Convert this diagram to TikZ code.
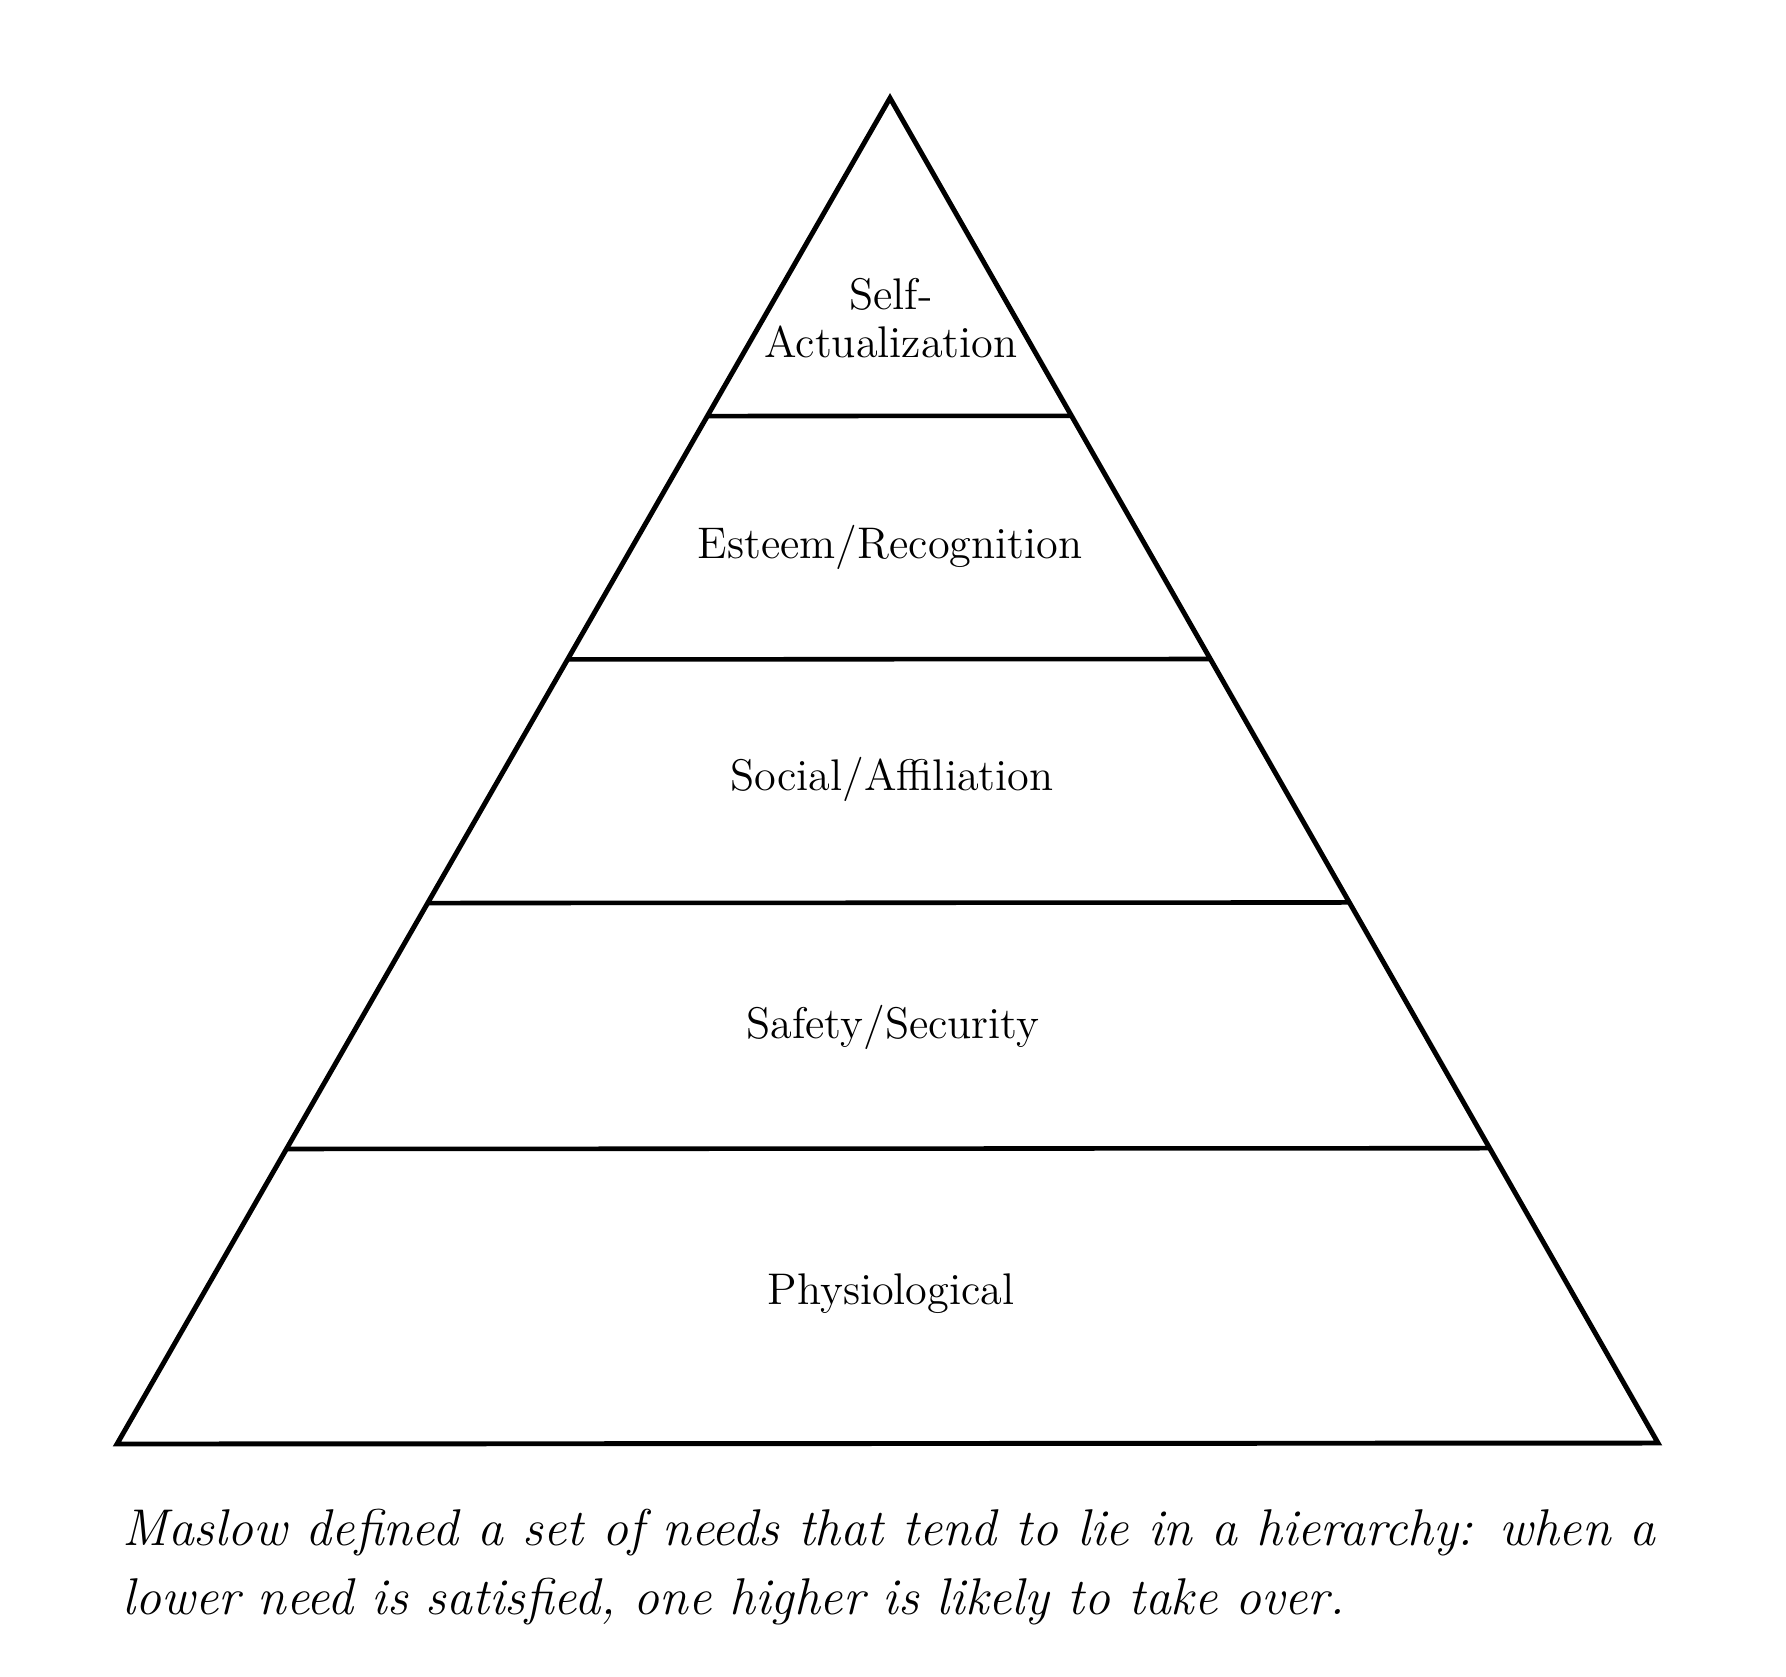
\documentclass[tikz,border=0pt]{standalone}
\usetikzlibrary{calc}
\begin{document}
\begin{tikzpicture}[x=0.01cm,y=-0.01cm,
  edge/.style={line width=1.4pt,line join=miter,line cap=round},
  level/.style={line width=1.3pt},
  lbl/.style={font=\fontsize{12.6}{14.5}\selectfont,inner sep=0pt,align=center},
  captext/.style={font=\fontsize{14.7}{17}\selectfont\itshape,inner sep=0pt,anchor=base west}]
\useasboundingbox (0,0) rectangle (1786,1676);
\coordinate (apex) at (890,98);
\coordinate (bl) at (117,1444);
\coordinate (br) at (1658,1443);
\draw[edge] (apex) -- (bl) -- (br) -- cycle;
\foreach \n/\t in {a/0.2363,b/0.4171,c/0.5981,d/0.7808}{
  \coordinate (L\n) at ($(apex)!\t!(bl)$);
  \coordinate (R\n) at ($(apex)!\t!(br)$);
  \draw[level] (L\n) -- (R\n);
}
\node[lbl] (self) at (891,318) {Self-\\[-1pt]Actualization};
\node[lbl] (esteem) at (890,547) {Esteem/Recognition};
\node[lbl] (social) at (892,779) {Social/Affiliation};
\node[lbl] (safety) at (893,1027) {Safety/Security};
\node[lbl] (phys) at (891,1294) {Physiological};
\node[captext] (cap1) at (122,1545) {\makebox[15.32cm][s]{Maslow defined a set of needs that tend to lie in a hierarchy: when a}};
\node[captext] (cap2) at (122,1614) {lower need is satisfied, one higher is likely to take over.};
\end{tikzpicture}
\end{document}
